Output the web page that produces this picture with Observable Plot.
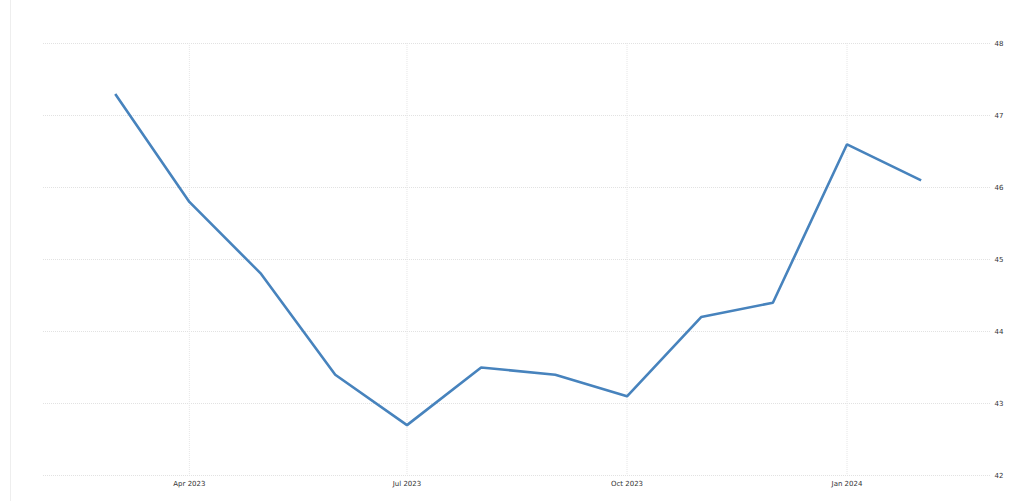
<!DOCTYPE html>
<html>
<head>
<meta charset="utf-8">
<script src="https://cdn.jsdelivr.net/npm/d3@7"></script>
<script src="https://cdn.jsdelivr.net/npm/@observablehq/plot@0.6"></script>
<style>
  html, body { margin: 0; padding: 0; background: #fff; }
  #wrap { position: relative; width: 1024px; height: 501px; }
  #edge { position: absolute; left: 10px; top: 0; width: 1px; height: 501px; background: #eeeeee; }
</style>
</head>
<body>
<div id="wrap"><div id="edge"></div><div id="chart"></div></div>
<script>
const months = ["2023-03-01","2023-04-01","2023-05-01","2023-06-01","2023-07-01","2023-08-01","2023-09-01","2023-10-01","2023-11-01","2023-12-01","2024-01-01","2024-02-01"];
const values = [47.3, 45.8, 44.8, 43.4, 42.7, 43.5, 43.4, 43.1, 44.2, 44.4, 46.6, 46.1];
const xTicks = ["2023-04-01","2023-07-01","2023-10-01","2024-01-01"];
const xTickLabels = ["Apr 2023","Jul 2023","Oct 2023","Jan 2024"];
const yTicks = [42, 43, 44, 45, 46, 47, 48];

const data = months.map((m, i) => ({date: new Date(m + "T00:00:00Z"), value: values[i]}));
const xTickDates = xTicks.map(d => new Date(d + "T00:00:00Z"));
const labelFor = new Map(xTickDates.map((d, i) => [+d, xTickLabels[i]]));

const chart = Plot.plot({
  width: 1024,
  height: 501,
  marginLeft: 43,
  marginRight: 34,
  marginTop: 43,
  marginBottom: 26,
  style: {fontFamily: "'DejaVu Sans', sans-serif", fontSize: "7px", color: "#333", background: "#fff"},
  x: {type: "utc", domain: [new Date("2023-01-30T00:00:00Z"), new Date("2024-03-01T00:00:00Z")]},
  y: {domain: [42, 48]},
  marks: [
    Plot.gridY(yTicks, {stroke: "#e2e2e2", strokeOpacity: 1, strokeDasharray: "1,1", strokeWidth: 1}),
    Plot.gridX(xTickDates, {stroke: "#e6e6e6", strokeOpacity: 1, strokeDasharray: "1,1", strokeWidth: 1}),
    Plot.axisY(yTicks, {anchor: "right", tickSize: 0, tickPadding: 4, fill: "#333", fontSize: 7, label: null, tickFormat: d => String(d)}),
    Plot.axisX(xTickDates, {anchor: "bottom", tickSize: 0, tickPadding: 6, fill: "#333", fontSize: 7, label: null, tickFormat: d => labelFor.get(+d)}),
    Plot.line(data, {x: "date", y: "value", stroke: "#4783bd", strokeWidth: 2.6, strokeLinejoin: "miter", strokeLinecap: "butt"})
  ]
});
document.getElementById("chart").appendChild(chart);
</script>
</body>
</html>
